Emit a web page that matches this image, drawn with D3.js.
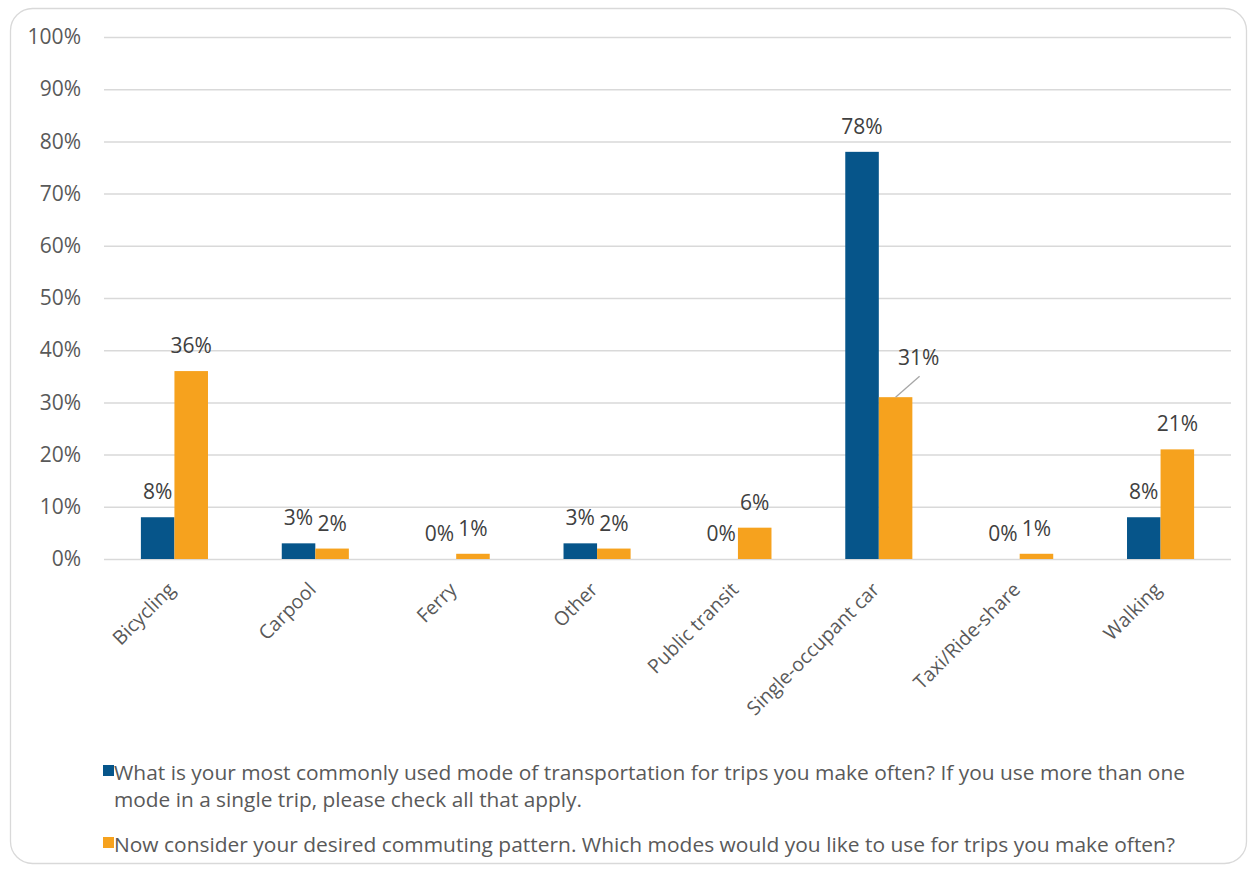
<!DOCTYPE html>
<html><head><meta charset="utf-8">
<script src="https://cdn.jsdelivr.net/npm/d3@7"></script>
<style>
html,body{margin:0;padding:0;background:#fff;}
svg text{font-family:"Open Sans",sans-serif;fill:#595959;}
</style></head>
<body><svg id="chart" width="1257" height="872"></svg>
<script>
const categories = ["Bicycling","Carpool","Ferry","Other","Public transit","Single-occupant car","Taxi/Ride-share","Walking"];
const currentMode = [0.08,0.03,0.00,0.03,0.00,0.78,0.00,0.08];
const desiredMode = [0.36,0.02,0.01,0.02,0.06,0.31,0.01,0.21];
const seriesNames = [
  "What is your most commonly used mode of transportation for trips you make often? If you use more than one mode in a single trip, please check all that apply.",
  "Now consider your desired commuting pattern. Which modes would you like to use for trips you make often?"
];
const legendLine1 = ["What is your most commonly used mode of transportation for trips you make often? If you use more than one", "mode in a single trip, please check all that apply."];
const yTicks = [0,0.1,0.2,0.3,0.4,0.5,0.6,0.7,0.8,0.9,1.0];

const colors = ["#06558a","#f6a21e"];
const svg = d3.select("#chart");
const W = 1257, H = 872;
const m = {left:104, right:1231, top:37, bottom:559};

svg.append("rect").attr("x",10.5).attr("y",8.5).attr("width",W-21).attr("height",H-17)
  .attr("rx",22).attr("fill","#fff").attr("stroke","#d9d9d9").attr("stroke-width",1.3);

const x = d3.scaleBand().domain(categories).range([m.left,m.right]).paddingInner(0).paddingOuter(0);
const inner = d3.scaleBand().domain([0,1]).range([0,x.bandwidth()]).paddingInner(0).paddingOuter(1.1);
const y = d3.scaleLinear().domain([0,1]).range([m.bottom,m.top]);

// gridlines
const yAxis = d3.axisLeft(y).tickValues(yTicks).tickFormat(d3.format(".0%")).tickSize(-(m.right-m.left)).tickPadding(23);
const ga = svg.append("g").attr("transform",`translate(${m.left},0)`).call(yAxis);
ga.select(".domain").remove();
ga.selectAll(".tick line").attr("stroke","#d9d9d9").attr("stroke-width",1.5);
ga.selectAll(".tick text").attr("font-size",21).style("fill","#595959").attr("font-family","Open Sans");

// x labels
const gx = svg.append("g");
categories.forEach(c=>{
  const cx = x(c)+x.bandwidth()/2;
  gx.append("text").attr("transform",`translate(${cx-3},${m.bottom+27}) rotate(-45)`)
    .attr("text-anchor","end").attr("dy","0.35em").attr("font-size",19.5).text(c);
});

const series = [currentMode, desiredMode];
series.forEach((vals,si)=>{
  const g = svg.append("g");
  g.selectAll("rect").data(categories).join("rect")
    .attr("x",c=>x(c)+inner(si)).attr("width",inner.bandwidth())
    .attr("y",(c,i)=>y(vals[i])).attr("height",(c,i)=>m.bottom-y(vals[i]))
    .attr("fill",colors[si]);
});

// data labels
const fmt = d3.format(".0%");
const labelShift = {"1-Single-occupant car":{dx:23,dy:-14}};
series.forEach((vals,si)=>{
  categories.forEach((c,i)=>{
    const bx = x(c)+inner(si)+inner.bandwidth()/2;
    const by = y(vals[i]);
    const sh = labelShift[si+"-"+c];
    let lx = bx, ly = by - 18;
    if(sh){
      lx = bx+sh.dx; ly = by-18+sh.dy;
      svg.append("line").attr("x1",bx).attr("y1",by).attr("x2",lx+1).attr("y2",ly+11)
        .attr("stroke","#a6a6a6").attr("stroke-width",1.3);
    }
    svg.append("text").attr("x",lx).attr("y",ly).attr("text-anchor","middle")
      .attr("font-size",21).style("fill","#404040").text(fmt(vals[i]));
  });
});

// legend
const lg = svg.append("g");
lg.append("rect").attr("x",103).attr("y",765).attr("width",11).attr("height",11).attr("fill",colors[0]);
lg.append("text").attr("x",114).attr("y",780).attr("font-size",20.3).attr("textLength",1071).attr("lengthAdjust","spacingAndGlyphs").text(legendLine1[0]);
lg.append("text").attr("x",114).attr("y",807).attr("font-size",20.3).attr("textLength",468).attr("lengthAdjust","spacingAndGlyphs").text(legendLine1[1]);
lg.append("rect").attr("x",103).attr("y",837).attr("width",11).attr("height",11).attr("fill",colors[1]);
lg.append("text").attr("x",114).attr("y",852).attr("font-size",20.3).attr("textLength",1061).attr("lengthAdjust","spacingAndGlyphs").text(seriesNames[1]);
</script></body></html>
